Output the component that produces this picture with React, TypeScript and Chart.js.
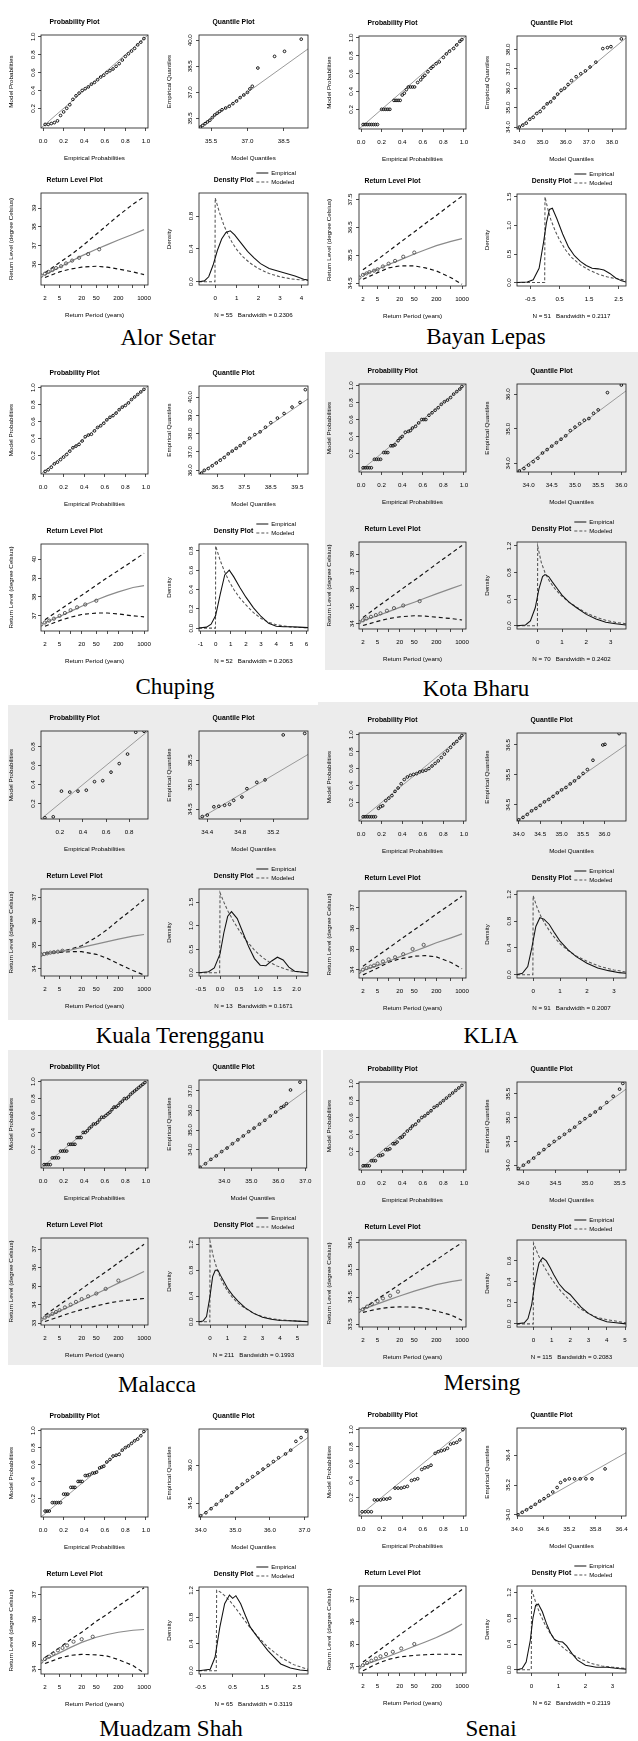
import React, { useEffect, useRef } from "react";
import { Chart, registerables } from "chart.js";

Chart.register(...registerables);

const SANS = '"Liberation Sans", Arial, Helvetica, sans-serif';
const SERIF = '"Liberation Serif", "Times New Roman", Times, serif';
const PANEL_GRAY = "rgb(236,236,236)";

// ================= shared axis values =================
const RL_PERIODS = [2, 5, 10, 20, 50, 100, 200, 500, 1000];
const RL_X_LABELS = ["2", "5", "", "20", "50", "", "200", "", "1000"];
const RL_X_RANGE = [1.56, 1282];
const PROB_X_TICKS = [0, 0.2, 0.4, 0.6, 0.8, 1.0];
const PROB_Y_TICKS = [0.2, 0.4, 0.6, 0.8, 1.0];
const PROB_RANGE = [-0.02, 1.02, -0.02, 1.02];

// ================= Alor Setar =================
const alorProb = [[0.02,0.02],[0.05,0.02],[0.08,0.03],[0.11,0.04],[0.14,0.06],[0.17,0.12],[0.2,0.16],[0.23,0.2],[0.26,0.24],[0.29,0.3],[0.32,0.34],[0.35,0.37],[0.38,0.4],[0.41,0.42],[0.44,0.44],[0.47,0.47],[0.5,0.49],[0.53,0.52],[0.56,0.55],[0.59,0.57],[0.62,0.6],[0.65,0.62],[0.68,0.64],[0.71,0.67],[0.74,0.7],[0.77,0.74],[0.8,0.78],[0.83,0.81],[0.86,0.84],[0.89,0.87],[0.92,0.91],[0.95,0.94],[0.98,0.98]];
const alorQuant = [[35.05,35.0],[35.15,35.1],[35.25,35.2],[35.35,35.3],[35.45,35.4],[35.55,35.55],[35.65,35.7],[35.75,35.8],[35.85,35.9],[35.95,36.0],[36.1,36.1],[36.25,36.2],[36.4,36.35],[36.55,36.5],[36.7,36.7],[36.85,36.85],[37.0,37.0],[37.1,37.2],[37.2,37.35],[37.43,38.4],[38.12,39.07],[38.53,39.36],[39.22,40.06]];
const alorQuantX = [35.5, 37.0, 38.5];
const alorQuantY = [35.5, 37.0, 38.5, 40.0];
const alorRlEst = [35.45, 35.85, 36.15, 36.45, 36.8, 37.05, 37.3, 37.6, 37.85];
const alorRlLo = [35.3, 35.6, 35.75, 35.85, 35.9, 35.85, 35.75, 35.6, 35.45];
const alorRlHi = [35.55, 36.1, 36.5, 36.95, 37.6, 38.1, 38.6, 39.2, 39.6];
const alorRlPts = [[1.6,35.4],[2,35.5],[2.5,35.6],[3.2,35.7],[4,35.8],[5.5,35.9],[7.5,36.05],[11,36.2],[17,36.35],[30,36.55],[60,36.8]];
const alorRlY = [36, 37, 38, 39];
const alorDensEmp = [[-0.75,0],[-0.5,0.01],[-0.3,0.06],[-0.1,0.2],[0.1,0.38],[0.3,0.52],[0.5,0.6],[0.7,0.62],[0.9,0.57],[1.2,0.47],[1.5,0.37],[1.8,0.29],[2.1,0.22],[2.5,0.16],[2.9,0.13],[3.3,0.1],[3.7,0.07],[4.1,0.03],[4.3,0.02]];
const alorDensMod = [[-0.75,0],[-0.01,0],[0,1.02],[0.2,0.84],[0.4,0.69],[0.6,0.57],[0.8,0.47],[1.0,0.39],[1.3,0.3],[1.6,0.23],[2.0,0.16],[2.5,0.1],[3.0,0.06],[3.5,0.035],[4.0,0.02],[4.3,0.015]];
const alorDensX = [0, 1, 2, 3, 4];
const alorDensY = [0, 0.4, 0.8];

// ================= Bayan Lepas =================
const bayanProb = [[0.02,0.03],[0.04,0.03],[0.06,0.03],[0.08,0.03],[0.1,0.03],[0.12,0.03],[0.14,0.03],[0.16,0.03],[0.2,0.2],[0.22,0.2],[0.24,0.2],[0.26,0.2],[0.28,0.2],[0.32,0.3],[0.34,0.3],[0.36,0.3],[0.38,0.3],[0.4,0.36],[0.42,0.38],[0.44,0.42],[0.46,0.45],[0.48,0.45],[0.5,0.45],[0.52,0.45],[0.55,0.5],[0.58,0.53],[0.6,0.56],[0.62,0.58],[0.65,0.62],[0.68,0.66],[0.7,0.68],[0.73,0.71],[0.76,0.73],[0.8,0.78],[0.83,0.82],[0.86,0.85],[0.9,0.88],[0.93,0.92],[0.96,0.96],[0.98,0.98]];
const bayanQuant = [[34.0,34.0],[34.15,34.1],[34.3,34.2],[34.45,34.4],[34.6,34.5],[34.75,34.7],[34.9,34.8],[35.05,35.0],[35.2,35.2],[35.35,35.3],[35.5,35.5],[35.65,35.7],[35.8,35.9],[35.95,36.0],[36.1,36.2],[36.25,36.4],[36.45,36.6],[36.65,36.75],[36.85,36.9],[37.05,37.1],[37.3,37.35],[37.6,38.05],[37.8,38.1],[37.95,38.15],[38.4,38.55]];
const bayanQuantX = [34, 35, 36, 37, 38];
const bayanQuantY = [34, 35, 36, 37, 38];
const bayanRlEst = [34.8, 35.0, 35.17, 35.33, 35.55, 35.7, 35.85, 36.0, 36.1];
const bayanRlLo = [34.64, 34.88, 35.05, 35.12, 35.12, 35.05, 34.94, 34.7, 34.46];
const bayanRlHi = [34.98, 35.35, 35.65, 35.95, 36.34, 36.64, 36.93, 37.33, 37.62];
const bayanRlPts = [[1.6,34.7],[2,34.8],[2.5,34.85],[3,34.9],[4,34.95],[5,35.0],[7,35.1],[10,35.2],[15,35.3],[25,35.45],[50,35.6]];
const bayanRlY = [34.5, 35.5, 36.5, 37.5];
const bayanDensEmp = [[-0.95,0],[-0.6,0.01],[-0.4,0.05],[-0.2,0.25],[-0.05,0.7],[0.05,1.05],[0.15,1.28],[0.25,1.3],[0.4,1.12],[0.6,0.85],[0.8,0.62],[1.0,0.47],[1.2,0.37],[1.4,0.3],[1.6,0.25],[1.8,0.24],[2.0,0.22],[2.2,0.16],[2.4,0.08],[2.6,0.03],[2.75,0.01]];
const bayanDensMod = [[-0.95,0],[-0.01,0],[0,1.5],[0.1,1.28],[0.2,1.1],[0.35,0.9],[0.5,0.74],[0.7,0.57],[0.9,0.44],[1.2,0.31],[1.5,0.22],[1.8,0.15],[2.1,0.1],[2.4,0.07],[2.75,0.04]];
const bayanDensX = [-0.5, 0.5, 1.5, 2.5];
const bayanDensY = [0, 0.5, 1.0, 1.5];

// ================= Chuping =================
const chupProb = [[0.02,0.01],[0.05,0.03],[0.08,0.06],[0.11,0.1],[0.14,0.12],[0.17,0.15],[0.2,0.18],[0.23,0.21],[0.26,0.25],[0.29,0.29],[0.32,0.31],[0.35,0.33],[0.38,0.37],[0.41,0.42],[0.44,0.44],[0.47,0.45],[0.5,0.49],[0.53,0.53],[0.56,0.55],[0.59,0.58],[0.62,0.62],[0.65,0.65],[0.68,0.67],[0.71,0.7],[0.74,0.74],[0.77,0.77],[0.8,0.79],[0.83,0.82],[0.86,0.86],[0.89,0.89],[0.92,0.92],[0.95,0.95],[0.98,0.98]];
const chupQuant = [[35.9,35.85],[36.0,36.0],[36.15,36.1],[36.3,36.25],[36.45,36.4],[36.6,36.55],[36.75,36.7],[36.9,36.9],[37.05,37.05],[37.2,37.2],[37.35,37.35],[37.5,37.5],[37.7,37.75],[37.9,37.95],[38.1,38.1],[38.3,38.35],[38.5,38.6],[38.75,38.85],[39.0,39.1],[39.3,39.45],[39.6,39.7],[39.8,40.4]];
const chupQuantX = [36.5, 37.5, 38.5, 39.5];
const chupQuantY = [36, 37, 38, 39, 40];
const chupRlEst = [36.64, 36.97, 37.24, 37.51, 37.84, 38.07, 38.27, 38.5, 38.6];
const chupRlLo = [36.45, 36.75, 36.93, 37.07, 37.15, 37.15, 37.1, 37.0, 36.95];
const chupRlHi = [36.8, 37.31, 37.71, 38.09, 38.62, 39.02, 39.4, 39.91, 40.31];
const chupRlPts = [[1.6,36.55],[2,36.65],[2.6,36.75],[3.5,36.85],[5,37.0],[7,37.15],[10,37.3],[15,37.45],[25,37.6],[50,37.8]];
const chupRlY = [37, 38, 39, 40];
const chupDensEmp = [[-1.1,0],[-0.6,0.01],[-0.3,0.04],[0,0.13],[0.3,0.35],[0.6,0.55],[0.9,0.6],[1.2,0.53],[1.6,0.42],[2.0,0.32],[2.5,0.21],[3.0,0.12],[3.5,0.05],[4.0,0.02],[4.5,0.015],[5.0,0.015],[5.5,0.01],[6.1,0.005]];
const chupDensMod = [[-1.1,0],[-0.01,0],[0,0.85],[0.3,0.7],[0.6,0.58],[0.9,0.48],[1.2,0.4],[1.6,0.31],[2.0,0.24],[2.5,0.16],[3.0,0.1],[3.5,0.06],[4.0,0.035],[5.0,0.01],[6.1,0.003]];
const chupDensX = [-1, 0, 1, 2, 3, 4, 5, 6];
const chupDensY = [0, 0.2, 0.4, 0.6, 0.8];

// ================= Kota Bharu =================
const kotaProb = [[0.02,0.03],[0.04,0.03],[0.06,0.03],[0.08,0.03],[0.1,0.03],[0.13,0.13],[0.15,0.13],[0.17,0.13],[0.19,0.13],[0.22,0.21],[0.24,0.21],[0.26,0.21],[0.29,0.29],[0.31,0.29],[0.33,0.3],[0.36,0.35],[0.38,0.38],[0.4,0.4],[0.43,0.45],[0.46,0.46],[0.48,0.47],[0.5,0.5],[0.53,0.52],[0.56,0.56],[0.59,0.6],[0.61,0.6],[0.63,0.6],[0.66,0.65],[0.69,0.68],[0.72,0.71],[0.75,0.74],[0.78,0.78],[0.81,0.81],[0.84,0.83],[0.87,0.86],[0.9,0.9],[0.93,0.93],[0.96,0.96],[0.98,0.99]];
const kotaQuant = [[33.8,33.78],[33.9,33.85],[34.0,33.95],[34.1,34.05],[34.2,34.15],[34.3,34.3],[34.4,34.4],[34.5,34.5],[34.6,34.6],[34.7,34.7],[34.8,34.8],[34.9,34.95],[35.0,35.05],[35.1,35.15],[35.2,35.25],[35.3,35.3],[35.4,35.45],[35.5,35.55],[35.7,36.05],[36.0,36.27]];
const kotaQuantX = [34.0, 34.5, 35.0, 35.5, 36.0];
const kotaQuantY = [34, 35, 36];
const kotaRlEst = [34.18, 34.46, 34.7, 34.94, 35.24, 35.48, 35.72, 36.02, 36.24];
const kotaRlLo = [33.9, 34.14, 34.3, 34.4, 34.46, 34.44, 34.38, 34.3, 34.22];
const kotaRlHi = [34.36, 34.98, 35.44, 35.9, 36.5, 36.96, 37.44, 38.04, 38.5];
const kotaRlPts = [[1.6,34.1],[2,34.2],[2.5,34.3],[3.3,34.4],[4.5,34.5],[6,34.6],[9,34.75],[14,34.9],[25,35.05],[70,35.3]];
const kotaRlY = [34, 35, 36, 37, 38];
const kotaDensEmp = [[-0.85,0],[-0.5,0.01],[-0.3,0.07],[-0.1,0.27],[0.05,0.55],[0.2,0.74],[0.3,0.77],[0.45,0.74],[0.6,0.66],[0.8,0.56],[1.0,0.46],[1.3,0.35],[1.6,0.27],[2.0,0.17],[2.4,0.1],[2.8,0.05],[3.2,0.03],[3.63,0.01]];
const kotaDensMod = [[-0.85,0],[-0.01,0],[0,1.2],[0.15,0.95],[0.3,0.8],[0.5,0.66],[0.7,0.56],[1.0,0.44],[1.3,0.35],[1.6,0.28],[2.0,0.19],[2.4,0.13],[2.8,0.08],[3.2,0.05],[3.63,0.03]];
const kotaDensX = [0, 1, 2, 3];
const kotaDensY = [0, 0.4, 0.8, 1.2];

// ================= Kuala Terengganu =================
const ktProb = [[0.071,0.05],[0.143,0.06],[0.214,0.33],[0.286,0.32],[0.357,0.33],[0.429,0.34],[0.5,0.43],[0.571,0.44],[0.643,0.53],[0.714,0.62],[0.786,0.72],[0.857,0.95],[0.929,0.96]];
const ktProbX = [0.2, 0.4, 0.6, 0.8];
const ktProbY = [0.2, 0.4, 0.6, 0.8];
const ktQuant = [[34.34,34.35],[34.4,34.38],[34.48,34.55],[34.54,34.56],[34.61,34.58],[34.67,34.6],[34.72,34.68],[34.82,34.75],[34.88,34.92],[35.0,35.05],[35.1,35.1],[35.32,36.02],[35.58,36.05]];
const ktQuantX = [34.4, 34.8, 35.2];
const ktQuantY = [34.5, 35.0, 35.5];
const ktRlEst = [34.65, 34.72, 34.79, 34.9, 35.04, 35.14, 35.25, 35.37, 35.44];
const ktRlLo = [34.64, 34.69, 34.72, 34.72, 34.61, 34.44, 34.21, 33.93, 33.74];
const ktRlHi = [34.66, 34.72, 34.83, 34.97, 35.32, 35.65, 36.04, 36.52, 36.91];
const ktRlPts = [[1.6,34.6],[1.9,34.62],[2.3,34.65],[2.8,34.68],[3.5,34.7],[4.5,34.72],[6,34.76]];
const ktRlY = [34, 35, 36, 37];
const ktDensEmp = [[-0.55,0],[-0.3,0.02],[-0.15,0.1],[0,0.4],[0.1,0.85],[0.2,1.2],[0.3,1.3],[0.45,1.15],[0.6,0.85],[0.75,0.55],[0.9,0.3],[1.05,0.16],[1.2,0.15],[1.35,0.25],[1.5,0.33],[1.65,0.27],[1.8,0.12],[1.95,0.03],[2.3,0]];
const ktDensMod = [[-0.55,0],[-0.01,0],[0,1.7],[0.1,1.5],[0.2,1.32],[0.35,1.1],[0.5,0.9],[0.7,0.67],[0.9,0.48],[1.1,0.33],[1.3,0.22],[1.5,0.14],[1.7,0.08],[1.9,0.03],[2.3,0]];
const ktDensX = [-0.5, 0, 0.5, 1.0, 1.5, 2.0];
const ktDensY = [0, 0.5, 1.0, 1.5];

// ================= KLIA =================
const kliaProb = [[0.02,0.03],[0.04,0.03],[0.06,0.03],[0.08,0.03],[0.1,0.03],[0.12,0.03],[0.14,0.03],[0.17,0.13],[0.19,0.15],[0.21,0.16],[0.24,0.22],[0.27,0.25],[0.3,0.28],[0.33,0.33],[0.36,0.37],[0.39,0.42],[0.42,0.47],[0.45,0.5],[0.48,0.52],[0.51,0.53],[0.54,0.54],[0.57,0.56],[0.6,0.57],[0.63,0.58],[0.66,0.6],[0.69,0.63],[0.72,0.66],[0.75,0.69],[0.78,0.73],[0.81,0.77],[0.84,0.81],[0.87,0.85],[0.9,0.89],[0.93,0.92],[0.96,0.96],[0.98,0.99]];
const kliaQuant = [[34.0,34.0],[34.1,34.08],[34.2,34.18],[34.3,34.3],[34.4,34.38],[34.5,34.48],[34.6,34.6],[34.7,34.68],[34.8,34.78],[34.9,34.9],[35.0,35.0],[35.1,35.08],[35.2,35.2],[35.3,35.3],[35.4,35.42],[35.5,35.55],[35.6,35.68],[35.73,35.99],[35.96,36.5],[36.01,36.52],[36.34,36.88]];
const kliaQuantX = [34.0, 34.5, 35.0, 35.5, 36.0];
const kliaQuantY = [34.5, 35.5, 36.5];
const kliaRlEst = [33.96, 34.2, 34.41, 34.62, 34.89, 35.09, 35.3, 35.54, 35.73];
const kliaRlLo = [33.75, 34.08, 34.36, 34.52, 34.65, 34.68, 34.62, 34.35, 34.05];
const kliaRlHi = [34.17, 34.67, 35.05, 35.43, 35.93, 36.3, 36.69, 37.17, 37.56];
const kliaRlPts = [[1.6,33.9],[2,34.0],[2.5,34.08],[3.2,34.15],[4,34.2],[5,34.3],[7,34.4],[10,34.5],[15,34.6],[25,34.75],[45,35.0],[90,35.2]];
const kliaRlY = [34, 35, 36, 37];
const kliaDensEmp = [[-0.6,0],[-0.4,0.02],[-0.2,0.12],[-0.05,0.4],[0.1,0.72],[0.25,0.85],[0.4,0.83],[0.6,0.75],[0.8,0.62],[1.0,0.5],[1.3,0.37],[1.6,0.27],[2.0,0.17],[2.4,0.1],[2.8,0.06],[3.2,0.03],[3.45,0.02]];
const kliaDensMod = [[-0.6,0],[-0.01,0],[0,1.18],[0.15,1.0],[0.3,0.86],[0.5,0.72],[0.7,0.6],[1.0,0.46],[1.3,0.36],[1.6,0.28],[2.0,0.2],[2.5,0.12],[3.0,0.07],[3.45,0.04]];
const kliaDensX = [0, 1, 2, 3];
const kliaDensY = [0, 0.4, 0.8, 1.2];

// ================= Malacca =================
const malProb = [[0.01,0.02],[0.03,0.02],[0.05,0.02],[0.07,0.02],[0.09,0.1],[0.11,0.1],[0.13,0.1],[0.15,0.1],[0.17,0.18],[0.19,0.18],[0.21,0.18],[0.23,0.18],[0.25,0.26],[0.27,0.26],[0.29,0.26],[0.31,0.26],[0.33,0.34],[0.35,0.34],[0.37,0.34],[0.39,0.4],[0.41,0.4],[0.43,0.42],[0.45,0.45],[0.47,0.47],[0.49,0.5],[0.51,0.5],[0.53,0.52],[0.55,0.55],[0.57,0.58],[0.59,0.58],[0.61,0.6],[0.63,0.62],[0.65,0.64],[0.67,0.67],[0.69,0.7],[0.71,0.7],[0.73,0.72],[0.75,0.75],[0.77,0.77],[0.79,0.8],[0.81,0.8],[0.83,0.82],[0.85,0.85],[0.87,0.87],[0.89,0.89],[0.91,0.91],[0.93,0.93],[0.95,0.95],[0.97,0.97],[0.99,0.99]];
const malQuant = [[33.1,33.1],[33.3,33.28],[33.5,33.5],[33.7,33.68],[33.9,33.9],[34.1,34.08],[34.3,34.3],[34.5,34.5],[34.7,34.7],[34.9,34.92],[35.1,35.1],[35.3,35.3],[35.5,35.5],[35.7,35.72],[35.9,35.92],[36.1,36.15],[36.2,36.22],[36.3,36.35],[36.45,37.05],[36.8,37.45]];
const malQuantX = [34, 35, 36, 37];
const malQuantY = [34, 35, 36, 37];
const malRlEst = [33.29, 33.65, 33.93, 34.22, 34.59, 34.87, 35.16, 35.51, 35.79];
const malRlLo = [33.09, 33.35, 33.56, 33.73, 33.93, 34.07, 34.18, 34.27, 34.33];
const malRlHi = [33.43, 33.99, 34.42, 34.85, 35.42, 35.83, 36.26, 36.83, 37.26];
const malRlPts = [[1.6,33.2],[2,33.3],[2.5,33.4],[3.2,33.5],[4,33.6],[5,33.7],[7,33.85],[10,34.0],[14,34.15],[20,34.3],[30,34.45],[50,34.6],[90,34.85],[200,35.3]];
const malRlY = [33, 34, 35, 36, 37];
const malDensEmp = [[-0.63,0],[-0.4,0.01],[-0.2,0.08],[0,0.4],[0.15,0.7],[0.3,0.8],[0.45,0.8],[0.6,0.72],[0.8,0.62],[1.0,0.52],[1.3,0.41],[1.6,0.32],[2.0,0.22],[2.5,0.13],[3.0,0.07],[3.5,0.04],[4.0,0.02],[4.5,0.015],[5.0,0.01],[5.6,0]];
const malDensMod = [[-0.63,0],[-0.01,0],[0,1.25],[0.2,1.0],[0.4,0.82],[0.6,0.68],[0.8,0.57],[1.0,0.48],[1.3,0.37],[1.6,0.29],[2.0,0.21],[2.5,0.13],[3.0,0.08],[3.5,0.05],[4.0,0.03],[5.0,0.01],[5.6,0.005]];
const malDensX = [0, 1, 2, 3, 4, 5];
const malDensY = [0, 0.4, 0.8, 1.2];

// ================= Mersing =================
const merProb = [[0.02,0.03],[0.04,0.03],[0.06,0.03],[0.08,0.03],[0.1,0.09],[0.12,0.09],[0.14,0.09],[0.17,0.15],[0.19,0.15],[0.21,0.16],[0.24,0.22],[0.26,0.22],[0.28,0.23],[0.31,0.29],[0.33,0.29],[0.35,0.31],[0.38,0.36],[0.4,0.37],[0.42,0.4],[0.45,0.44],[0.48,0.47],[0.5,0.5],[0.53,0.52],[0.56,0.56],[0.59,0.6],[0.62,0.62],[0.65,0.65],[0.68,0.68],[0.71,0.72],[0.74,0.74],[0.77,0.77],[0.8,0.8],[0.83,0.83],[0.86,0.86],[0.89,0.89],[0.92,0.92],[0.95,0.95],[0.98,0.98]];
const merQuant = [[33.92,33.93],[34.0,34.0],[34.08,34.07],[34.16,34.15],[34.24,34.25],[34.32,34.33],[34.4,34.42],[34.48,34.5],[34.56,34.58],[34.64,34.65],[34.72,34.73],[34.8,34.8],[34.88,34.9],[34.96,34.98],[35.04,35.05],[35.12,35.12],[35.2,35.2],[35.3,35.32],[35.4,35.45],[35.5,35.6],[35.55,35.72]];
const merQuantX = [34.0, 34.5, 35.0, 35.5];
const merQuantY = [34.0, 34.5, 35.0, 35.5];
const merRlEst = [34.05, 34.25, 34.4, 34.54, 34.72, 34.84, 34.96, 35.07, 35.13];
const merRlLo = [33.94, 34.06, 34.12, 34.14, 34.13, 34.08, 33.99, 33.84, 33.65];
const merRlHi = [34.06, 34.43, 34.7, 34.97, 35.33, 35.61, 35.87, 36.24, 36.5];
const merRlPts = [[1.6,34.0],[2,34.05],[2.6,34.15],[3.5,34.25],[5,34.35],[7,34.45],[11,34.55],[18,34.7]];
const merRlY = [33.5, 34.5, 35.5, 36.5];
const merDensEmp = [[-0.9,0],[-0.5,0.01],[-0.3,0.05],[-0.1,0.18],[0.1,0.42],[0.3,0.58],[0.5,0.63],[0.7,0.6],[0.9,0.54],[1.1,0.47],[1.4,0.38],[1.7,0.32],[2.0,0.28],[2.3,0.22],[2.6,0.16],[3.0,0.1],[3.5,0.05],[4.0,0.02],[4.5,0.01],[5.05,0]];
const merDensMod = [[-0.9,0],[-0.01,0],[0,0.77],[0.25,0.66],[0.5,0.57],[0.8,0.48],[1.1,0.4],[1.5,0.31],[2.0,0.22],[2.5,0.15],[3.0,0.1],[3.5,0.06],[4.0,0.04],[5.05,0.01]];
const merDensX = [0, 1, 2, 3, 4, 5];
const merDensY = [0, 0.2, 0.4, 0.6];

// ================= Muadzam Shah =================
const muaProb = [[0.02,0.05],[0.04,0.05],[0.06,0.05],[0.09,0.15],[0.11,0.15],[0.13,0.15],[0.15,0.15],[0.17,0.15],[0.2,0.25],[0.22,0.25],[0.24,0.25],[0.27,0.33],[0.29,0.33],[0.31,0.33],[0.34,0.4],[0.36,0.4],[0.38,0.4],[0.41,0.47],[0.43,0.47],[0.45,0.48],[0.48,0.5],[0.5,0.5],[0.52,0.51],[0.55,0.56],[0.57,0.57],[0.59,0.58],[0.62,0.63],[0.65,0.66],[0.68,0.7],[0.71,0.71],[0.74,0.72],[0.77,0.77],[0.8,0.8],[0.83,0.82],[0.86,0.85],[0.89,0.88],[0.92,0.9],[0.95,0.94],[0.98,0.99]];
const muaQuant = [[34.0,34.0],[34.15,34.12],[34.3,34.28],[34.45,34.45],[34.6,34.6],[34.75,34.78],[34.9,34.92],[35.05,35.1],[35.2,35.25],[35.35,35.4],[35.5,35.55],[35.65,35.7],[35.8,35.85],[35.95,36.0],[36.1,36.15],[36.25,36.3],[36.45,36.45],[36.6,36.6],[36.75,36.95],[36.9,37.1],[37.05,37.35]];
const muaQuantX = [34, 35, 36, 37];
const muaQuantY = [34.5, 36.0];
const muaRlEst = [34.37, 34.65, 34.87, 35.07, 35.28, 35.39, 35.48, 35.56, 35.59];
const muaRlLo = [34.22, 34.44, 34.55, 34.59, 34.57, 34.52, 34.38, 34.14, 33.84];
const muaRlHi = [34.46, 34.86, 35.19, 35.48, 35.92, 36.21, 36.54, 36.94, 37.27];
const muaRlPts = [[1.6,34.3],[2,34.4],[2.6,34.5],[3.4,34.62],[4.5,34.75],[6,34.85],[8,34.95],[12,35.1],[20,35.2],[40,35.3]];
const muaRlY = [34, 35, 36, 37];
const muaDensEmp = [[-0.55,0],[-0.2,0.02],[-0.05,0.2],[0.1,0.65],[0.25,1.0],[0.4,1.13],[0.5,1.08],[0.6,1.12],[0.75,1.0],[0.9,0.82],[1.05,0.65],[1.2,0.55],[1.4,0.42],[1.6,0.3],[1.8,0.2],[2.0,0.1],[2.3,0.04],[2.6,0.01],[2.85,0]];
const muaDensMod = [[-0.55,0],[-0.01,0],[0,1.2],[0.1,1.18],[0.25,1.12],[0.4,1.05],[0.6,0.93],[0.8,0.8],[1.0,0.67],[1.3,0.5],[1.6,0.35],[2.0,0.2],[2.4,0.09],[2.85,0.02]];
const muaDensX = [-0.5, 0.5, 1.5, 2.5];
const muaDensY = [0, 0.4, 0.8, 1.2];

// ================= Senai =================
const senProb = [[0.01,0.03],[0.04,0.03],[0.07,0.03],[0.1,0.03],[0.13,0.17],[0.16,0.17],[0.19,0.17],[0.22,0.18],[0.25,0.18],[0.28,0.19],[0.33,0.31],[0.36,0.31],[0.39,0.31],[0.42,0.32],[0.45,0.33],[0.49,0.4],[0.52,0.41],[0.55,0.42],[0.59,0.53],[0.62,0.55],[0.65,0.56],[0.68,0.58],[0.72,0.72],[0.75,0.74],[0.78,0.75],[0.81,0.76],[0.84,0.78],[0.87,0.83],[0.9,0.84],[0.93,0.85],[0.96,0.88],[0.99,1.0]];
const senQuant = [[34.02,34.0],[34.12,34.1],[34.22,34.2],[34.32,34.3],[34.42,34.42],[34.52,34.55],[34.62,34.65],[34.72,34.78],[34.82,34.92],[34.92,35.1],[35.0,35.3],[35.1,35.4],[35.2,35.45],[35.32,35.45],[35.45,35.45],[35.58,35.45],[35.72,35.45],[36.02,35.85],[36.42,37.48]];
const senQuantX = [34.0, 34.6, 35.2, 35.8, 36.4];
const senQuantY = [34.0, 35.2, 36.4];
const senRlEst = [34.05, 34.28, 34.45, 34.64, 34.9, 35.09, 35.29, 35.6, 35.9];
const senRlLo = [33.8, 34.13, 34.31, 34.42, 34.49, 34.52, 34.54, 34.54, 34.52];
const senRlHi = [34.19, 34.67, 35.03, 35.41, 35.88, 36.24, 36.6, 37.08, 37.44];
const senRlPts = [[1.6,33.95],[2,34.05],[2.6,34.15],[3.4,34.25],[4.5,34.35],[6,34.45],[8.5,34.55],[13,34.65],[22,34.8],[50,35.0]];
const senRlY = [34, 35, 36, 37];
const senDensEmp = [[-0.54,0],[-0.35,0.02],[-0.2,0.12],[-0.05,0.45],[0.05,0.8],[0.15,1.0],[0.25,1.02],[0.4,0.9],[0.55,0.72],[0.7,0.57],[0.85,0.47],[1.0,0.44],[1.15,0.43],[1.3,0.37],[1.5,0.25],[1.7,0.15],[2.0,0.07],[2.4,0.04],[2.8,0.04],[3.2,0.02],[3.5,0.01]];
const senDensMod = [[-0.54,0],[-0.01,0],[0,1.25],[0.15,1.05],[0.3,0.88],[0.5,0.7],[0.7,0.56],[0.9,0.45],[1.2,0.33],[1.5,0.24],[1.8,0.17],[2.2,0.1],[2.6,0.06],[3.0,0.04],[3.5,0.02]];
const senDensX = [0, 1, 2, 3];
const senDensY = [0, 0.4, 0.8, 1.2];

// ================= station table (built from the arrays above) =================
const STATIONS: any[] = [
  { name: "Alor Setar", x0: 0, aTop: 35, hA: 93, hB: 92, capX: 168, capY: 345,
    prob: alorProb, probRange: PROB_RANGE, probX: PROB_X_TICKS, probY: PROB_Y_TICKS,
    quant: alorQuant, quantRange: [35.0, 39.5, 34.95, 40.3], quantX: alorQuantX, quantY: alorQuantY,
    rlEst: alorRlEst, rlLo: alorRlLo, rlHi: alorRlHi, rlPts: alorRlPts, rlRange: [34.9, 39.8], rlY: alorRlY, rlDec: 0,
    densEmp: alorDensEmp, densMod: alorDensMod, densRange: [-0.75, 4.3, -0.04, 1.08], densX: alorDensX, densY: alorDensY, densXDec: 0,
    densLabel: "N = 55   Bandwidth = 0.2306" },
  { name: "Bayan Lepas", x0: 318, aTop: 36, hA: 93, hB: 92, capX: 486, capY: 344,
    prob: bayanProb, probRange: PROB_RANGE, probX: PROB_X_TICKS, probY: PROB_Y_TICKS,
    quant: bayanQuant, quantRange: [33.9, 38.6, 33.9, 38.7], quantX: bayanQuantX, quantY: bayanQuantY,
    rlEst: bayanRlEst, rlLo: bayanRlLo, rlHi: bayanRlHi, rlPts: bayanRlPts, rlRange: [34.4, 37.7], rlY: bayanRlY, rlDec: 1,
    densEmp: bayanDensEmp, densMod: bayanDensMod, densRange: [-0.95, 2.75, -0.06, 1.55], densX: bayanDensX, densY: bayanDensY, densXDec: 1,
    densLabel: "N = 51   Bandwidth = 0.2117" },
  { name: "Chuping", x0: 0, aTop: 386, hA: 88, hB: 87, capX: 175, capY: 694,
    prob: chupProb, probRange: PROB_RANGE, probX: PROB_X_TICKS, probY: PROB_Y_TICKS,
    quant: chupQuant, quantRange: [35.8, 39.9, 35.8, 40.6], quantX: chupQuantX, quantY: chupQuantY,
    rlEst: chupRlEst, rlLo: chupRlLo, rlHi: chupRlHi, rlPts: chupRlPts, rlRange: [36.2, 40.8], rlY: chupRlY, rlDec: 0,
    densEmp: chupDensEmp, densMod: chupDensMod, densRange: [-1.1, 6.1, -0.03, 0.87], densX: chupDensX, densY: chupDensY, densXDec: 0,
    densLabel: "N = 52   Bandwidth = 0.2063" },
  { name: "Kota Bharu", x0: 318, aTop: 384, hA: 88, hB: 87, capX: 476, capY: 696,
    prob: kotaProb, probRange: PROB_RANGE, probX: PROB_X_TICKS, probY: PROB_Y_TICKS,
    quant: kotaQuant, quantRange: [33.75, 36.1, 33.75, 36.3], quantX: kotaQuantX, quantY: kotaQuantY,
    rlEst: kotaRlEst, rlLo: kotaRlLo, rlHi: kotaRlHi, rlPts: kotaRlPts, rlRange: [33.7, 38.7], rlY: kotaRlY, rlDec: 0,
    densEmp: kotaDensEmp, densMod: kotaDensMod, densRange: [-0.85, 3.63, -0.05, 1.26], densX: kotaDensX, densY: kotaDensY, densXDec: 0,
    densLabel: "N = 70   Bandwidth = 0.2402" },
  { name: "Kuala Terengganu", x0: 0, aTop: 731, hA: 88, hB: 87, capX: 180, capY: 1043,
    prob: ktProb, probRange: [0.037, 0.963, 0.037, 0.963], probX: ktProbX, probY: ktProbY,
    quant: ktQuant, quantRange: [34.3, 35.62, 34.3, 36.1], quantX: ktQuantX, quantY: ktQuantY,
    rlEst: ktRlEst, rlLo: ktRlLo, rlHi: ktRlHi, rlPts: ktRlPts, rlRange: [33.7, 37.35], rlY: ktRlY, rlDec: 0,
    densEmp: ktDensEmp, densMod: ktDensMod, densRange: [-0.55, 2.3, -0.07, 1.78], densX: ktDensX, densY: ktDensY, densXDec: 1,
    densLabel: "N = 13   Bandwidth = 0.1671" },
  { name: "KLIA", x0: 318, aTop: 733, hA: 88, hB: 87, capX: 491, capY: 1043,
    prob: kliaProb, probRange: PROB_RANGE, probX: PROB_X_TICKS, probY: PROB_Y_TICKS,
    quant: kliaQuant, quantRange: [33.96, 36.5, 33.96, 36.9], quantX: kliaQuantX, quantY: kliaQuantY,
    rlEst: kliaRlEst, rlLo: kliaRlLo, rlHi: kliaRlHi, rlPts: kliaRlPts, rlRange: [33.6, 37.8], rlY: kliaRlY, rlDec: 0,
    densEmp: kliaDensEmp, densMod: kliaDensMod, densRange: [-0.6, 3.45, -0.05, 1.25], densX: kliaDensX, densY: kliaDensY, densXDec: 0,
    densLabel: "N = 91   Bandwidth = 0.2007" },
  { name: "Malacca", x0: 0, aTop: 1080, hA: 88, hB: 87, capX: 157, capY: 1392,
    prob: malProb, probRange: PROB_RANGE, probX: PROB_X_TICKS, probY: PROB_Y_TICKS,
    quant: malQuant, quantRange: [33.06, 37.05, 33.06, 37.56], quantX: malQuantX, quantY: malQuantY,
    rlEst: malRlEst, rlLo: malRlLo, rlHi: malRlHi, rlPts: malRlPts, rlRange: [32.9, 37.6], rlY: malRlY, rlDec: 0,
    densEmp: malDensEmp, densMod: malDensMod, densRange: [-0.63, 5.6, -0.05, 1.3], densX: malDensX, densY: malDensY, densXDec: 0,
    densLabel: "N = 211   Bandwidth = 0.1993" },
  { name: "Mersing", x0: 318, aTop: 1082, hA: 88, hB: 87, capX: 482, capY: 1390,
    prob: merProb, probRange: PROB_RANGE, probX: PROB_X_TICKS, probY: PROB_Y_TICKS,
    quant: merQuant, quantRange: [33.9, 35.6, 33.9, 35.75], quantX: merQuantX, quantY: merQuantY,
    rlEst: merRlEst, rlLo: merRlLo, rlHi: merRlHi, rlPts: merRlPts, rlRange: [33.4, 36.6], rlY: merRlY, rlDec: 1,
    densEmp: merDensEmp, densMod: merDensMod, densRange: [-0.9, 5.05, -0.03, 0.8], densX: merDensX, densY: merDensY, densXDec: 0,
    densLabel: "N = 115   Bandwidth = 0.2083" },
  { name: "Muadzam Shah", x0: 0, aTop: 1429, hA: 88, hB: 87, capX: 171, capY: 1736,
    prob: muaProb, probRange: PROB_RANGE, probX: PROB_X_TICKS, probY: PROB_Y_TICKS,
    quant: muaQuant, quantRange: [33.95, 37.1, 33.95, 37.44], quantX: muaQuantX, quantY: muaQuantY,
    rlEst: muaRlEst, rlLo: muaRlLo, rlHi: muaRlHi, rlPts: muaRlPts, rlRange: [33.8, 37.3], rlY: muaRlY, rlDec: 0,
    densEmp: muaDensEmp, densMod: muaDensMod, densRange: [-0.55, 2.85, -0.05, 1.25], densX: muaDensX, densY: muaDensY, densXDec: 1,
    densLabel: "N = 65   Bandwidth = 0.3119" },
  { name: "Senai", x0: 318, aTop: 1428, hA: 88, hB: 87, capX: 491, capY: 1736,
    prob: senProb, probRange: PROB_RANGE, probX: PROB_X_TICKS, probY: PROB_Y_TICKS,
    quant: senQuant, quantRange: [34.0, 36.5, 33.95, 37.5], quantX: senQuantX, quantY: senQuantY,
    rlEst: senRlEst, rlLo: senRlLo, rlHi: senRlHi, rlPts: senRlPts, rlRange: [33.7, 37.6], rlY: senRlY, rlDec: 0,
    densEmp: senDensEmp, densMod: senDensMod, densRange: [-0.54, 3.5, -0.05, 1.3], densX: senDensX, densY: senDensY, densXDec: 0,
    densLabel: "N = 62   Bandwidth = 0.2119" },
];

const GRAY_PANELS = [
  { left: 325, top: 352, width: 313, height: 318 },
  { left: 8, top: 705, width: 312, height: 315 },
  { left: 318, top: 702, width: 320, height: 318 },
  { left: 8, top: 1050, width: 313, height: 315 },
  { left: 323, top: 1050, width: 315, height: 317 },
];

// ================= chart helpers =================
const toXY = (a: number[][]) => a.map(([x, y]) => ({ x, y }));

function scatterDs(a: number[][], color = "#111", r = 1.35) {
  return {
    data: toXY(a), showLine: false, pointRadius: r, pointBorderWidth: 0.95,
    pointBorderColor: color, pointBackgroundColor: "rgba(0,0,0,0)", pointStyle: "circle",
  };
}
function lineDs(a: number[][], color: string, width: number, dash: number[] = [], label?: string) {
  return {
    label, data: toXY(a), showLine: true, pointRadius: 0, borderColor: color,
    backgroundColor: color, borderWidth: width, borderDash: dash, fill: false, tension: 0,
  };
}

const boxPlugin = {
  id: "rbox",
  afterDraw(chart: any) {
    const { ctx, chartArea: a } = chart;
    ctx.save();
    ctx.strokeStyle = "#222";
    ctx.lineWidth = 0.85;
    ctx.strokeRect(a.left, a.top, a.right - a.left, a.bottom - a.top);
    ctx.restore();
  },
};
const legendRightPlugin = {
  id: "legendRight",
  afterLayout(chart: any) {
    const lg = chart.legend;
    if (!lg || !lg.options || !lg.options.display) return;
    const a = chart.chartArea;
    const w = lg.width;
    lg.left = a.right - w - 2;
    lg.right = lg.left + w;
  },
};

function makeConfig(s: any) {
  const tickFont = { family: SANS, size: 6.2 };
  const grid = { drawOnChartArea: false, drawTicks: true, tickLength: 3, color: "#222", lineWidth: 0.8 };
  return {
    type: "scatter",
    data: { datasets: s.datasets },
    options: {
      animation: false, responsive: false, maintainAspectRatio: false, devicePixelRatio: 1, events: [],
      layout: { padding: { left: 0, right: 10, top: 0, bottom: 0 } },
      plugins: {
        title: { display: true, text: s.title, color: "#000", font: { family: SANS, size: 6.8, weight: "bold" }, padding: { top: 9, bottom: 8.84 } },
        tooltip: { enabled: false },
        legend: s.legend ? {
          display: true, position: "chartArea", align: "start",
          labels: {
            usePointStyle: true, pointStyle: "line", pointStyleWidth: 12, boxHeight: 6, padding: 3,
            color: "#000", font: { family: SANS, size: 6 },
            generateLabels: (chart: any) => chart.data.datasets
              .map((d: any, i: number) => ({
                text: d.label, strokeStyle: d.borderColor, fillStyle: "rgba(0,0,0,0)", lineWidth: d.borderWidth,
                lineDash: d.borderDash || [], pointStyle: "line", hidden: false, datasetIndex: i, fontColor: "#000",
              }))
              .filter((it: any) => it.text),
          },
        } : { display: false },
      },
      scales: {
        x: {
          type: s.xType, min: s.xMin, max: s.xMax, bounds: "data",
          afterBuildTicks: (sc: any) => { sc.ticks = s.xTicks.map((v: number) => ({ value: v })); },
          afterFit: (sc: any) => { sc.height = 34; },
          ticks: { autoSkip: false, maxRotation: 0, minRotation: 0, padding: 6.5, color: "#000", font: tickFont, callback: (_v: any, i: number) => s.xLabels[i] },
          grid, border: { display: false },
          title: { display: true, text: s.xTitle, color: "#000", font: tickFont, padding: { top: 0, bottom: 0 } },
        },
        y: {
          type: "linear", min: s.yMin, max: s.yMax, bounds: "data",
          afterBuildTicks: (sc: any) => { sc.ticks = s.yTicks.map((v: number) => ({ value: v })); },
          afterFit: (sc: any) => { sc.width = 40; },
          ticks: { autoSkip: false, minRotation: 90, maxRotation: 90, crossAlign: "center", padding: 0, color: "#000", font: tickFont, callback: (_v: any, i: number) => s.yLabels[i] },
          grid, border: { display: false },
          title: { display: true, text: s.yTitle, color: "#000", font: tickFont, padding: { top: 6.3, bottom: 0 } },
        },
      },
    },
    plugins: [boxPlugin, legendRightPlugin],
  };
}

function probSpec(st: any) {
  const [x0, x1, y0, y1] = st.probRange;
  const lo = Math.min(x0, y0), hi = Math.max(x1, y1);
  return {
    title: "Probability Plot", xTitle: "Empirical Probabilities", yTitle: "Model Probabilities",
    xType: "linear", xMin: x0, xMax: x1, yMin: y0, yMax: y1,
    xTicks: st.probX, yTicks: st.probY,
    xLabels: st.probX.map((v: number) => v.toFixed(1)), yLabels: st.probY.map((v: number) => v.toFixed(1)),
    datasets: [scatterDs(st.prob), lineDs([[lo, lo], [hi, hi]], "#9a9a9a", 1)],
  };
}
function quantSpec(st: any) {
  const [x0, x1, y0, y1] = st.quantRange;
  const lo = Math.min(x0, y0), hi = Math.max(x1, y1);
  return {
    title: "Quantile Plot", xTitle: "Model Quantiles", yTitle: "Empirical Quantiles",
    xType: "linear", xMin: x0, xMax: x1, yMin: y0, yMax: y1,
    xTicks: st.quantX, yTicks: st.quantY,
    xLabels: st.quantX.map((v: number) => v.toFixed(1)), yLabels: st.quantY.map((v: number) => v.toFixed(1)),
    datasets: [scatterDs(st.quant), lineDs([[lo, lo], [hi, hi]], "#9a9a9a", 1)],
  };
}
function rlSpec(st: any) {
  const line = (vals: number[]) => RL_PERIODS.map((p, i) => [p, vals[i]]);
  return {
    title: "Return Level Plot", xTitle: "Return Period (years)", yTitle: "Return Level (degree Celsius)",
    xType: "logarithmic", xMin: RL_X_RANGE[0], xMax: RL_X_RANGE[1], yMin: st.rlRange[0], yMax: st.rlRange[1],
    xTicks: RL_PERIODS, yTicks: st.rlY, xLabels: RL_X_LABELS, yLabels: st.rlY.map((v: number) => v.toFixed(st.rlDec)),
    datasets: [
      scatterDs(st.rlPts, "#555", 1.6),
      lineDs(line(st.rlEst), "#8a8a8a", 1.2),
      lineDs(line(st.rlLo), "#111", 1.15, [4, 3]),
      lineDs(line(st.rlHi), "#111", 1.15, [4, 3]),
    ],
  };
}
function densSpec(st: any) {
  const [x0, x1, y0, y1] = st.densRange;
  return {
    title: "Density Plot", xTitle: st.densLabel, yTitle: "Density", legend: true,
    xType: "linear", xMin: x0, xMax: x1, yMin: y0, yMax: y1,
    xTicks: st.densX, yTicks: st.densY,
    xLabels: st.densX.map((v: number) => v.toFixed(st.densXDec)), yLabels: st.densY.map((v: number) => v.toFixed(1)),
    datasets: [
      lineDs(st.densEmp, "#111", 1.05, [], "Empirical"),
      lineDs(st.densMod, "#555", 1.05, [3, 2], "Modeled"),
    ],
  };
}

function Subplot({ left, top, boxW, boxH, spec }: any) {
  const ref = useRef<HTMLCanvasElement | null>(null);
  const w = 40 + boxW + 10;
  const h = 26 + boxH + 34;
  useEffect(() => {
    if (!ref.current) return;
    const chart = new Chart(ref.current, makeConfig(spec) as any);
    return () => chart.destroy();
  }, []);
  return (
    <canvas ref={ref} width={w} height={h}
      style={{ position: "absolute", left, top, width: w, height: h, display: "block" }} />
  );
}

function StationPanel({ st }: any) {
  const leftCol = st.x0 + 1;
  const rightCol = st.x0 + 159;
  const aTop = st.aTop - 26;
  const bTop = st.aTop + 158 - 26;
  return (
    <>
      <Subplot left={leftCol} top={aTop} boxW={107} boxH={st.hA} spec={probSpec(st)} />
      <Subplot left={rightCol} top={aTop} boxW={109} boxH={st.hA} spec={quantSpec(st)} />
      <Subplot left={leftCol} top={bTop} boxW={107} boxH={st.hB} spec={rlSpec(st)} />
      <Subplot left={rightCol} top={bTop} boxW={109} boxH={st.hB} spec={densSpec(st)} />
      <div style={{
        position: "absolute", left: st.capX - 160, width: 320, top: st.capY - 20, height: 25,
        lineHeight: "25px", fontFamily: SERIF, fontSize: 23, textAlign: "center", color: "#000", whiteSpace: "nowrap",
      }}>{st.name}</div>
    </>
  );
}

export default function App() {
  return (
    <div style={{ position: "absolute", left: 0, top: 0, width: 638, height: 1741, background: "#fff", overflow: "hidden" }}>
      {GRAY_PANELS.map((p, i) => (
        <div key={i} style={{ position: "absolute", left: p.left, top: p.top, width: p.width, height: p.height, background: PANEL_GRAY }} />
      ))}
      {STATIONS.map((st) => <StationPanel key={st.name} st={st} />)}
    </div>
  );
}
